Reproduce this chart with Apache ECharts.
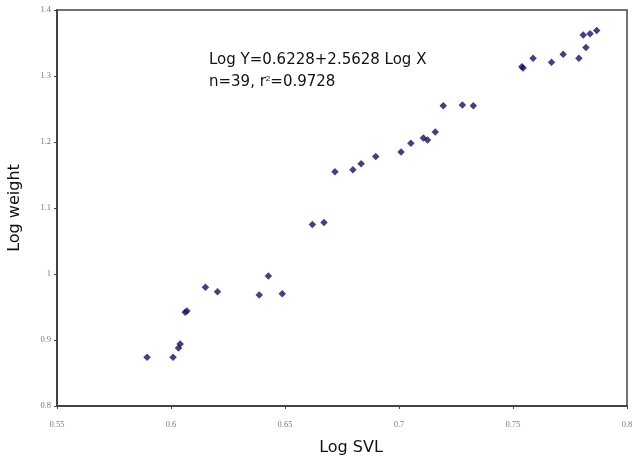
<!DOCTYPE html>
<html>
  <head>
    <meta charset="utf-8">
    <title></title>
    <style media="screen">
    html, body {margin:0; padding:0; background:#fff;}
    .box {width:639px; height:463px;}
    </style>
    <script src="https://cdn.jsdelivr.net/npm/echarts@6/dist/echarts.min.js" charset="utf-8"></script>
    <script>
    // log SVL (x) and log weight (y)
    const logSVL = [0.5895, 0.6009, 0.6033, 0.6040, 0.6062, 0.6070, 0.6151, 0.6204,
      0.6387, 0.6427, 0.6488, 0.6620, 0.6671, 0.6719, 0.6798, 0.6834, 0.6898,
      0.7009, 0.7052, 0.7107, 0.7125, 0.7159, 0.7194, 0.7278, 0.7326, 0.7539,
      0.7544, 0.7588, 0.7669, 0.7720, 0.7789, 0.7820, 0.7808, 0.7838, 0.7867];
    const logWeight = [0.874, 0.874, 0.888, 0.894, 0.942, 0.944, 0.980, 0.973,
      0.968, 0.997, 0.970, 1.075, 1.078, 1.155, 1.158, 1.167, 1.178,
      1.185, 1.198, 1.206, 1.203, 1.215, 1.255, 1.256, 1.255, 1.314,
      1.312, 1.327, 1.321, 1.333, 1.327, 1.343, 1.362, 1.364, 1.369];
    const eqLine1 = 'Log Y=0.6228+2.5628 Log X';
    const eqLine2 = 'n=39, r{sup|2}=0.9728';

    window.onload=function (){
      let chart=echarts.init(document.querySelector('.box'));
      let tickFont={fontFamily: 'Liberation Serif', fontSize: 8.5, color: '#7a7a7a'};
      let nameFont={fontFamily: 'DejaVu Sans', fontSize: 16, color: '#111'};
      let option={
        animation: false,
        grid: {left: 57, right: 12, top: 10, bottom: 57, outerBoundsMode: 'none',
          show: true, borderColor: '#444', borderWidth: 1.5},
        xAxis: {
          type: 'value', min: 0.55, max: 0.8, interval: 0.05,
          name: 'Log SVL', nameLocation: 'middle', nameGap: 34,
          nameTextStyle: Object.assign({padding: [0, 0, 0, 18]}, nameFont),
          axisLine: {lineStyle: {color: '#444', width: 2}},
          axisTick: {show: true, length: 3, lineStyle: {color: '#444'}},
          axisLabel: Object.assign({margin: 14}, tickFont),
          splitLine: {show: false}
        },
        yAxis: {
          type: 'value', min: 0.8, max: 1.4, interval: 0.1,
          name: 'Log weight', nameLocation: 'middle', nameGap: 34, nameRotate: 90,
          nameTextStyle: nameFont,
          axisLine: {show: true, lineStyle: {color: '#444', width: 2}},
          axisTick: {show: true, length: 3, lineStyle: {color: '#444'}},
          axisLabel: Object.assign({margin: 6}, tickFont),
          splitLine: {show: false}
        },
        graphic: [
          {type: 'text', left: 209, top: 53, style: {text: eqLine1, font: '15px "DejaVu Sans"', fill: '#111'}},
          {type: 'text', left: 209, top: 75, style: {
            text: eqLine2, font: '15px "DejaVu Sans"', fill: '#111',
            rich: {sup: {fontSize: 8, verticalAlign: 'top', padding: [0, 0, 7, 0], fill: '#111'}}
          }}
        ],
        series: [{
          type: 'scatter',
          symbol: 'diamond',
          symbolSize: 7.5,
          itemStyle: {color: '#1a0f5c'},
          data: logSVL.map((x, i) => [x, logWeight[i]])
        }]
      };
      chart.setOption(option);
    };
    </script>
  </head>
  <body>
    <div class="box"></div>
  </body>
</html>
